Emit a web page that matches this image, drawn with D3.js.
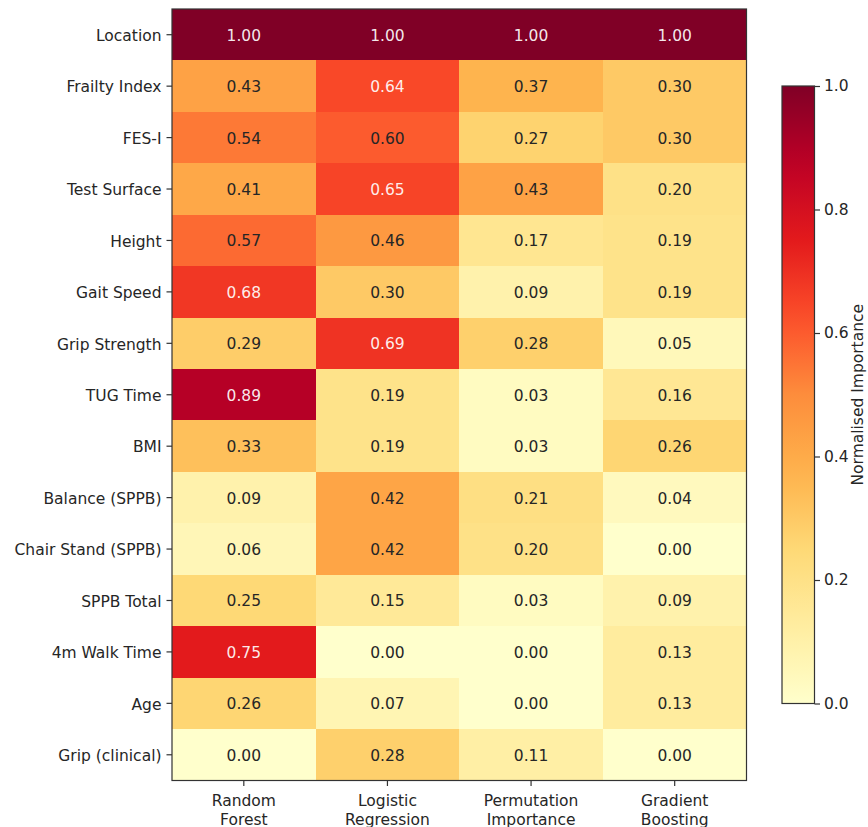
<!DOCTYPE html>
<html>
<head>
<meta charset="utf-8">
<script src="https://cdn.jsdelivr.net/npm/d3@7"></script>
<style>
  html, body { margin: 0; padding: 0; background: #fff; }
  svg { display: block; font-family: "DejaVu Sans", sans-serif; }
</style>
</head>
<body>
<svg id="chart" width="868" height="827"></svg>
<script>
// Features (rows, top to bottom) and models (columns)
const features = ["Location", "Frailty Index", "FES-I", "Test Surface", "Height", "Gait Speed",
  "Grip Strength", "TUG Time", "BMI", "Balance (SPPB)", "Chair Stand (SPPB)", "SPPB Total",
  "4m Walk Time", "Age", "Grip (clinical)"];
const models = [["Random", "Forest"], ["Logistic", "Regression"], ["Permutation", "Importance"], ["Gradient", "Boosting"]];

// Normalised importance per model, in feature order
const randomForest       = [1.00, 0.43, 0.54, 0.41, 0.57, 0.68, 0.29, 0.89, 0.33, 0.09, 0.06, 0.25, 0.75, 0.26, 0.00];
const logisticRegression = [1.00, 0.64, 0.60, 0.65, 0.46, 0.30, 0.69, 0.19, 0.19, 0.42, 0.42, 0.15, 0.00, 0.07, 0.28];
const permutationImp     = [1.00, 0.37, 0.27, 0.43, 0.17, 0.09, 0.28, 0.03, 0.03, 0.21, 0.20, 0.03, 0.00, 0.00, 0.11];
const gradientBoosting   = [1.00, 0.30, 0.30, 0.20, 0.19, 0.19, 0.05, 0.16, 0.26, 0.04, 0.00, 0.09, 0.13, 0.13, 0.00];
const seriesValues = [randomForest, logisticRegression, permutationImp, gradientBoosting];

const colorbarTicks = [0.0, 0.2, 0.4, 0.6, 0.8, 1.0];
const colorbarLabel = "Normalised Importance";

// YlOrRd colour ramp
const ylOrRd = ["#ffffcc", "#ffeda0", "#fed976", "#feb24c", "#fd8d3c", "#fc4e2a", "#e31a1c", "#bd0026", "#800026"];
const color = d3.scaleLinear()
  .domain(d3.range(ylOrRd.length).map(i => i / (ylOrRd.length - 1)))
  .range(ylOrRd)
  .interpolate(d3.interpolateRgb)
  .clamp(true);

const svg = d3.select("#chart");
const plot = { left: 172, top: 9, right: 746.5, bottom: 780.5 };
const frame = "#333";
const ink = "#262626";
const fontSize = 15.5;

const x = d3.scaleBand().domain(d3.range(models.length)).range([plot.left, plot.right]);
const y = d3.scaleBand().domain(features).range([plot.top, plot.bottom]);

// Cells
const cells = [];
seriesValues.forEach((vals, ci) => vals.forEach((v, ri) => cells.push({ ci, feature: features[ri], v })));

svg.append("g").selectAll("rect").data(cells).join("rect")
  .attr("x", d => x(d.ci))
  .attr("y", d => y(d.feature))
  .attr("width", x.bandwidth() + 0.5)
  .attr("height", y.bandwidth() + 0.5)
  .attr("fill", d => color(d.v))
  .attr("shape-rendering", "crispEdges");

svg.append("g").selectAll("text").data(cells).join("text")
  .attr("x", d => x(d.ci) + x.bandwidth() / 2)
  .attr("y", d => y(d.feature) + y.bandwidth() / 2 + 1)
  .attr("text-anchor", "middle")
  .attr("dominant-baseline", "central")
  .attr("font-size", fontSize)
  .attr("fill", d => d.v > 0.6 ? "rgba(255,255,255,0.92)" : ink)
  .text(d => d.v.toFixed(2));

// Frame
svg.append("rect")
  .attr("x", plot.left).attr("y", plot.top)
  .attr("width", plot.right - plot.left).attr("height", plot.bottom - plot.top)
  .attr("fill", "none").attr("stroke", frame).attr("stroke-width", 1.2);

// Y axis
const yAxis = svg.append("g").attr("transform", `translate(${plot.left},0)`)
  .call(d3.axisLeft(y).tickSize(5.5).tickPadding(5));
yAxis.select(".domain").remove();
yAxis.selectAll(".tick line").attr("stroke", frame).attr("stroke-width", 1.2);
yAxis.selectAll(".tick text").attr("font-size", fontSize).attr("fill", ink)
  .attr("dy", "0.4em")
  .attr("font-family", "DejaVu Sans, sans-serif");

// X axis with two-line labels
const xAxis = svg.append("g").attr("transform", `translate(0,${plot.bottom})`)
  .call(d3.axisBottom(x).tickSize(5.5).tickFormat(""));
xAxis.select(".domain").remove();
xAxis.selectAll(".tick line").attr("stroke", frame).attr("stroke-width", 1.2);
xAxis.selectAll(".tick").each(function (i) {
  const t = d3.select(this).append("text")
    .attr("text-anchor", "middle")
    .attr("fill", ink)
    .attr("font-size", fontSize)
    .attr("font-family", "DejaVu Sans, sans-serif");
  models[i].forEach((line, k) => t.append("tspan").attr("x", 0).attr("y", 25 + k * 19).text(line));
});

// Colour bar
const cb = { left: 782, right: 814.5, top: 86, bottom: 703.5 };
const cbScale = d3.scaleLinear().domain([0, 1]).range([cb.bottom, cb.top]);
const defs = svg.append("defs");
const grad = defs.append("linearGradient").attr("id", "cbGrad")
  .attr("x1", 0).attr("y1", 1).attr("x2", 0).attr("y2", 0);
d3.range(0, 1.0001, 0.05).forEach(t => grad.append("stop").attr("offset", t).attr("stop-color", color(t)));

svg.append("rect")
  .attr("x", cb.left).attr("y", cb.top)
  .attr("width", cb.right - cb.left).attr("height", cb.bottom - cb.top)
  .attr("fill", "url(#cbGrad)").attr("stroke", frame).attr("stroke-width", 1.2);

const cbAxis = svg.append("g").attr("transform", `translate(${cb.right},0)`)
  .call(d3.axisRight(cbScale).tickValues(colorbarTicks).tickFormat(d3.format(".1f")).tickSize(5.5).tickPadding(4));
cbAxis.select(".domain").remove();
cbAxis.selectAll(".tick line").attr("stroke", frame).attr("stroke-width", 1.2);
cbAxis.selectAll(".tick text").attr("font-size", fontSize).attr("fill", ink)
  .attr("font-family", "DejaVu Sans, sans-serif");

// Colour bar title, reading upward along the right edge
svg.append("text")
  .attr("transform", `translate(863,${(cb.top + cb.bottom) / 2}) rotate(-90)`)
  .attr("text-anchor", "middle")
  .attr("font-size", fontSize)
  .attr("fill", ink)
  .text(colorbarLabel);
</script>
</body>
</html>
